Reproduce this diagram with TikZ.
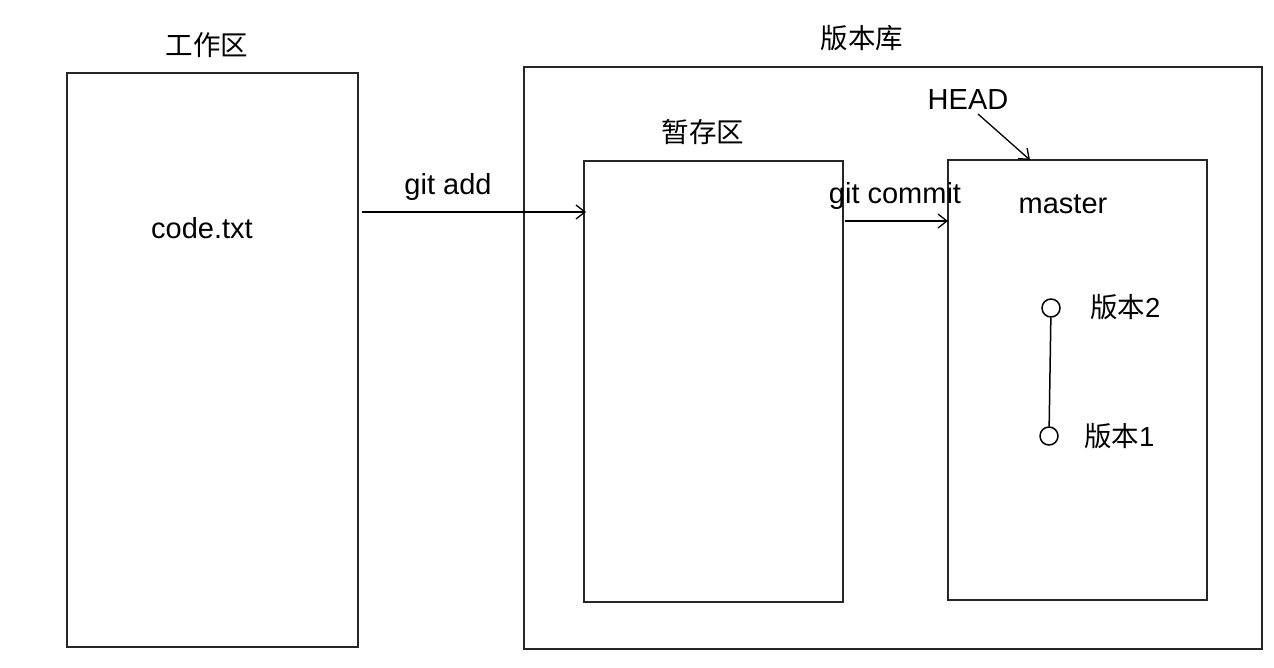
\documentclass[tikz,border=0pt]{standalone}
\usepackage{fontspec}
\setmainfont{Liberation Sans}
\newfontfamily\cjk{Noto Sans CJK SC}
\usetikzlibrary{arrows.meta}
\begin{document}
\begin{tikzpicture}[x=1pt,y=-1pt,
  box/.style={draw=black!85,line width=1.5pt},
  lbl/.style={font=\fontsize{27.5}{30}\selectfont\cjk,inner sep=0pt},
  txt/.style={font=\fontsize{29}{32}\selectfont,inner sep=0pt},
  arr/.style={line width=1.3pt,-{Straight Barb[length=9pt,width=14pt]}},
  ver/.style={circle,draw,line width=1.5pt,minimum size=18pt,inner sep=0pt}]
\useasboundingbox (0,0) rectangle (1274,667);
\fill[white] (0,0) rectangle (1274,667);
% boxes
\draw[box] (67,73) rectangle (358,647);
\draw[box] (524,67) rectangle (1262,649);
\draw[box] (584,161) rectangle (843,602);
\draw[box] (948,160) rectangle (1207,600);
\coordinate (wr) at (362,212);
\coordinate (sl) at (586,212);
\coordinate (sr) at (845,221);
\coordinate (ml) at (948,221);
\coordinate (htop) at (1030,160);
% labels
\node[lbl] (work) at (207,45) {工作区};
\node[lbl] (repo) at (862,38) {版本库};
\node[lbl] (stage) at (703,132) {暂存区};
\node[txt] (code) at (202,228) {code.txt};
\node[txt] (head) at (968,100) {HEAD};
\node[txt] (master) at (1063,204) {master};
\node[txt] (gadd) at (448,187) {git add};
\node[txt] (gcom) at (895,196) {git commit};
% arrows
\draw[arr] (wr) -- (sl);
\draw[arr] (sr) -- (ml);
\draw[arr] (978,114) -- (htop);
% versions
\node[ver] (v2) at (1051,308) {};
\node[ver] (v1) at (1049,436) {};
\draw[line width=1.5pt] (v2) -- (v1);
\node[lbl,anchor=west] (l2) at (1090,307) {版本\fontspec{Liberation Sans}2};
\node[lbl,anchor=west] (l1) at (1084,436) {版本\fontspec{Liberation Sans}1};
\end{tikzpicture}
\end{document}
